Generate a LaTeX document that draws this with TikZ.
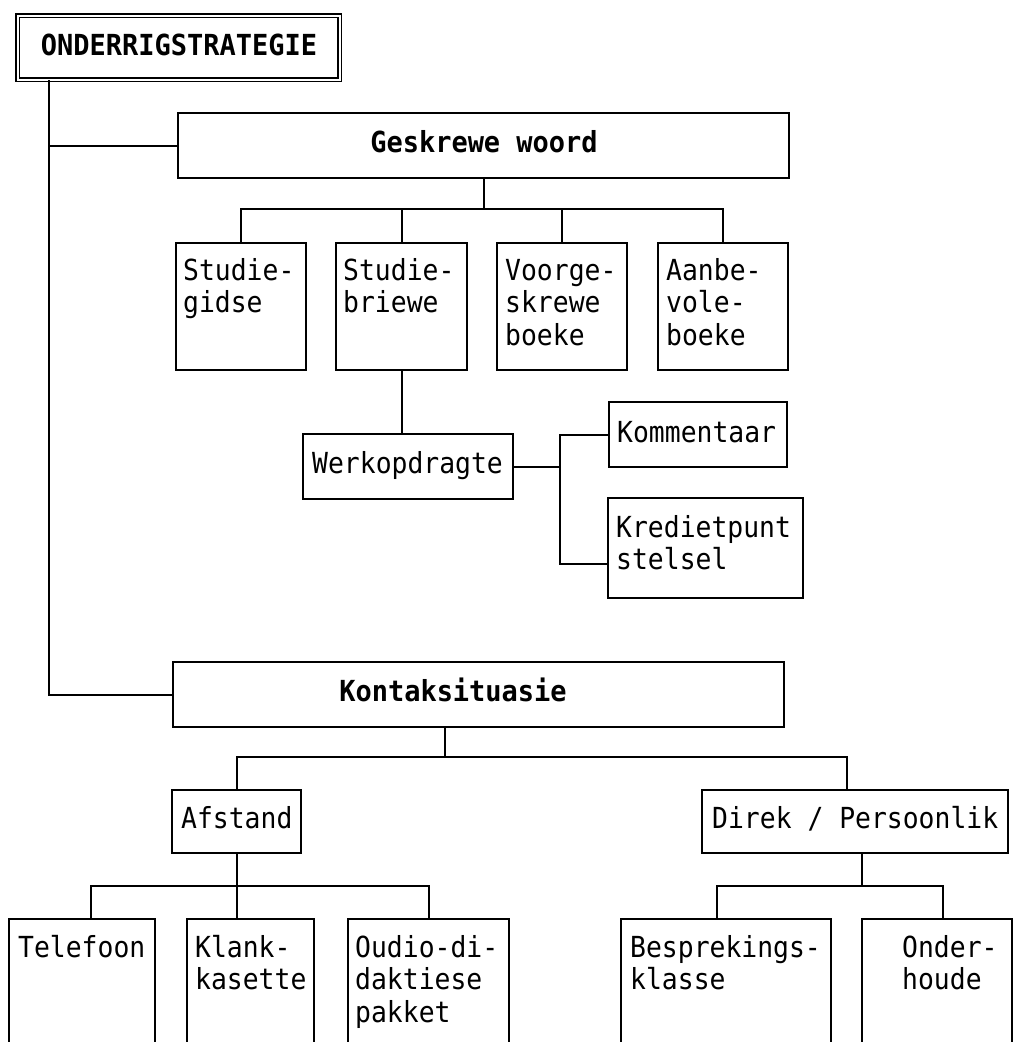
\documentclass[tikz,border=0pt]{standalone}
\usepackage{fontspec}
% narrow monospaced faces for the box labels
\newfontfamily\boxfont{DejaVu Sans Mono}[FakeStretch=0.91]
\newfontfamily\headfont{DejaVu Sans Mono}[FakeStretch=0.93]
% lines stacked under the first one, aligned on the first baseline
\newcommand\stackl[1]{\begin{tabular}[t]{@{}l@{}}#1\end{tabular}}
\begin{document}
\begin{tikzpicture}[x=1pt, y=-1pt,
  box/.style={draw, line width=2pt, inner sep=0pt, anchor=north west},
  txt/.style={anchor=base west, inner sep=0pt,
    font=\boxfont\fontsize{29}{32.5}\selectfont},
  head/.style={anchor=base, inner sep=0pt,
    font=\headfont\bfseries\fontsize{29}{32.5}\selectfont},
  link/.style={line width=2pt}]
\useasboundingbox (0,0) rectangle (1016,1042);
\clip (0,0) rectangle (1016,1042);

% root
\node[draw, double, double distance=2.4pt, line width=1.4pt, inner sep=0pt,
  anchor=north west, minimum width=322pt, minimum height=64pt] (title) at (17,15) {};
\node[head] (titletxt) at (179,55) {ONDERRIGSTRATEGIE};

% written-word branch
\node[box, minimum width=611pt, minimum height=65pt] (gesk) at (177,112) {};
\node[head] (gesktxt) at (484,152) {Geskrewe woord};
\node[box, minimum width=130pt, minimum height=127pt] (sgid) at (175,242) {};
\node[box, minimum width=131pt, minimum height=127pt] (sbri) at (335,242) {};
\node[box, minimum width=130pt, minimum height=127pt] (voor) at (496,242) {};
\node[box, minimum width=130pt, minimum height=127pt] (aanb) at (657,242) {};
\node[txt] (sgidtxt) at (183,280) {\stackl{Studie-\\gidse}};
\node[txt] (sbritxt) at (343,280) {\stackl{Studie-\\briewe}};
\node[txt] (voortxt) at (505,280) {\stackl{Voorge-\\skrewe\\boeke}};
\node[txt] (aanbtxt) at (666,280) {\stackl{Aanbe-\\vole-\\boeke}};

\node[box, minimum width=210pt, minimum height=65pt] (werk) at (302,433) {};
\node[txt] (werktxt) at (312,473) {Werkopdragte};
\node[box, minimum width=178pt, minimum height=65pt] (komm) at (608,401) {};
\node[txt] (kommtxt) at (617,442) {Kommentaar};
\node[box, minimum width=195pt, minimum height=100pt] (kred) at (607,497) {};
\node[txt] (kredtxt) at (616,537) {\stackl{Kredietpunt\\stelsel}};

% contact branch
\node[box, minimum width=611pt, minimum height=65pt] (kont) at (172,661) {};
\node[head] (konttxt) at (453,701) {Kontaksituasie};
\node[box, minimum width=129pt, minimum height=63pt] (afst) at (171,789) {};
\node[txt] (afsttxt) at (181,828) {Afstand};
\node[box, minimum width=306pt, minimum height=63pt] (dire) at (701,789) {};
\node[txt] (diretxt) at (712,828) {Direk / Persoonlik};

\node[box, minimum width=146pt, minimum height=140pt] (tele) at (8,918) {};
\node[box, minimum width=127pt, minimum height=140pt] (klan) at (186,918) {};
\node[box, minimum width=161pt, minimum height=140pt] (oudi) at (347,918) {};
\node[box, minimum width=210pt, minimum height=140pt] (besp) at (620,918) {};
\node[box, minimum width=150pt, minimum height=140pt] (ondh) at (861,918) {};
\node[txt] (teletxt) at (18,957) {Telefoon};
\node[txt] (klantxt) at (195,957) {\stackl{Klank-\\kasette}};
\node[txt] (ouditxt) at (355,957) {\stackl{Oudio-di-\\daktiese\\pakket}};
\node[txt] (besptxt) at (630,957) {\stackl{Besprekings-\\klasse}};
\node[txt] (ondhtxt) at (902,957) {\stackl{Onder-\\houde}};

% trunk from the root
\coordinate (trunk) at (49,0);
\draw[link] (trunk |- title.south) |- (kont.west);
\draw[link] (trunk |- gesk.west) -- (gesk.west);

% written-word connectors
\coordinate (gbus) at (0,209);
\draw[link] (gesk.south) -- (gesk.south |- gbus);
\draw[link] (sgid.north) -- (sgid.north |- gbus) -- (aanb.north |- gbus) -- (aanb.north);
\draw[link] (sbri.north) -- (sbri.north |- gbus);
\draw[link] (voor.north) -- (voor.north |- gbus);
\draw[link] (sbri.south) -- (sbri.south |- werk.north);
\coordinate (wbus) at (560,0);
\coordinate (kredin) at ([yshift=-16pt]kred.west);
\draw[link] (werk.east) -- (werk.east -| wbus);
\draw[link] (komm.west) -| (wbus |- kredin) -- (kredin);

% contact connectors
\coordinate (kbus) at (0,757);
\coordinate (kdrop) at ([xshift=273pt]kont.south west);
\coordinate (ddrop) at ([xshift=146pt]dire.north west);
\draw[link] (kdrop) -- (kdrop |- kbus);
\draw[link] (afst.north) |- (ddrop |- kbus) -- (ddrop);

\coordinate (abus) at (0,886);
\coordinate (tdrop) at ([xshift=83pt]tele.north west);
\draw[link] (afst.south) -- (afst.south |- klan.north);
\draw[link] (tdrop) |- (oudi.north |- abus) -- (oudi.north);

\coordinate (dmid) at ([xshift=161pt]dire.south west);
\coordinate (bdrop) at ([xshift=97pt]besp.north west);
\coordinate (odrop) at ([xshift=82pt]ondh.north west);
\draw[link] (dmid) -- (dmid |- abus);
\draw[link] (bdrop) |- (odrop |- abus) -- (odrop);
\end{tikzpicture}
\end{document}
